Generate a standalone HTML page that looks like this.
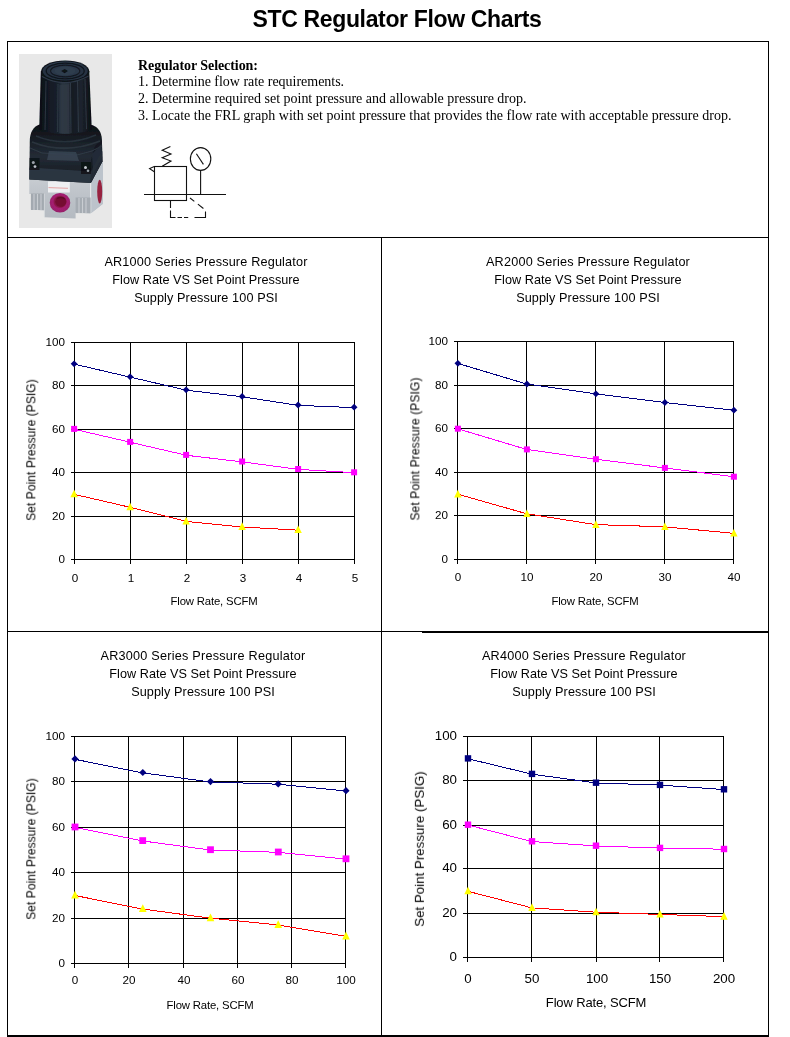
<!DOCTYPE html>
<html><head><meta charset="utf-8"><title>STC Regulator Flow Charts</title>
<style>
html,body{margin:0;padding:0;background:#fff;}
body{width:790px;height:1037px;position:relative;overflow:hidden;font-family:"Liberation Sans",sans-serif;color:#000;}
svg.main{position:absolute;left:0;top:0;}
.t{position:absolute;white-space:nowrap;color:#000;will-change:transform;}
</style></head>
<body>
<svg class="main" width="790" height="1037" viewBox="0 0 790 1037">
<defs>
<filter id="soft" x="-5%" y="-5%" width="110%" height="110%"><feGaussianBlur stdDeviation="0.55"/></filter>
<linearGradient id="capg" x1="0" x2="1" y1="0" y2="0">
<stop offset="0" stop-color="#0a0e14"/><stop offset="0.18" stop-color="#121923"/><stop offset="0.36" stop-color="#18212d"/>
<stop offset="0.44" stop-color="#2b3541"/><stop offset="0.56" stop-color="#252e39"/><stop offset="0.62" stop-color="#141a22"/>
<stop offset="0.8" stop-color="#1c242e"/><stop offset="1" stop-color="#0b0e13"/></linearGradient>
<linearGradient id="bodyg" x1="0" x2="0" y1="0" y2="1">
<stop offset="0" stop-color="#0c0f14"/><stop offset="0.35" stop-color="#1b222b"/><stop offset="0.55" stop-color="#232b35"/><stop offset="1" stop-color="#12161c"/></linearGradient>
<linearGradient id="silv" x1="0" x2="0" y1="0" y2="1">
<stop offset="0" stop-color="#d3d7db"/><stop offset="0.5" stop-color="#c0c5cb"/><stop offset="1" stop-color="#b4bac1"/></linearGradient>
<radialGradient id="port" cx="0.5" cy="0.45" r="0.55">
<stop offset="0" stop-color="#7c1238"/><stop offset="0.5" stop-color="#8a1548"/><stop offset="0.62" stop-color="#a51f70"/><stop offset="1" stop-color="#96206a"/></radialGradient>
<clipPath id="pclip"><rect x="0" y="0" width="93" height="174"/></clipPath>
</defs>
<g transform="translate(19,54)">
<rect x="0" y="0" width="93" height="174" fill="#e8e8e8"/>
<g clip-path="url(#pclip)"><g filter="url(#soft)">
<!-- silver body -->
<path d="M10.3 124 L10.3 140 L11.8 140 L11.8 155.5 L25.4 156.6 L25.4 163.2 L56.6 164.6 L56.6 158.6 L71.6 159.6 L84 149.8 L84 107 L72 126 Z" fill="url(#silv)"/>
<!-- right face -->
<path d="M71.6 128.6 L84 107.4 L84 149.8 L71.6 159.6 Z" fill="#bcc3cb"/>
<path d="M71.6 128.6 L71.6 159.6" stroke="#e6e8ea" stroke-width="1.2" fill="none"/>
<!-- recessed ribbed wings -->
<rect x="12" y="139.5" width="13.4" height="16.5" fill="#a3a9b0"/>
<rect x="56.6" y="143.5" width="15" height="15.6" fill="#a6acb3"/>
<path d="M15 140v16M18.5 140v16M22 140v16M60 144v15M63.5 144v15M67 144v15" stroke="#c9cdd2" stroke-width="1.1"/>
<!-- label highlight -->
<rect x="29" y="127.5" width="21.8" height="11" fill="#eeeff1"/>
<path d="M29.5 133.6 L49 134.3" stroke="#e29a9a" stroke-width="0.9"/>
<path d="M25.4 139.5 L25.4 163" stroke="#d9dcdf" stroke-width="0.8"/>
<!-- front port -->
<ellipse cx="41" cy="148.8" rx="10.3" ry="9.8" fill="url(#port)"/>
<ellipse cx="41.8" cy="147.6" rx="5.6" ry="5.2" fill="#741033"/>
<path d="M38 144.5 q4 -2 8 0.5" stroke="#5c0c28" stroke-width="1.3" fill="none"/>
<!-- side port -->
<ellipse cx="80.7" cy="137.6" rx="2.5" ry="11.8" fill="#98243f"/>
<!-- black body -->
<path d="M20.5 70.5 C14 72.5 11 79 10.8 86 L10.3 125.6 L71.8 129 L83.4 107.6 L82.9 85 C82.5 78 79 73 73.2 71 Z" fill="url(#bodyg)"/>
<path d="M71.8 129 L83.4 107.6 L82.9 86 L76 92 L72.5 104 Z" fill="#141920"/>
<path d="M10.4 113.5 L71.9 117.5 L71.8 129 L10.3 125.6 Z" fill="#2d3845" opacity="0.9"/>
<path d="M71.9 117.5 L83.3 97 L83.4 107.6 L71.8 129 Z" fill="#222b36" opacity="0.9"/>
<!-- collar ring sheen -->
<path d="M13 88 Q46 101 81 87" stroke="#2b343e" stroke-width="1.8" fill="none"/>
<path d="M17 82 Q46 94 77 81" stroke="#27303a" stroke-width="1.5" fill="none"/><path d="M11 94 L23 99 L58 101 L73 97 L82.9 92" stroke="#303a46" stroke-width="1" fill="none"/>
<path d="M30 97 L57 98 L60 107 L28 106 Z" fill="#374454" opacity="0.85"/><path d="M73 100 L82.5 90 L83 104 L74 120 Z" fill="#262f3a" opacity="0.9"/>
<!-- screw recesses -->
<rect x="10.5" y="104" width="10" height="12" fill="#0a0c10" opacity="0.7"/>
<rect x="62" y="108" width="10" height="12" fill="#0a0c10" opacity="0.7"/>
<circle cx="14.3" cy="108.6" r="1.5" fill="#9aa1a8"/><circle cx="16" cy="112.6" r="1.4" fill="#b9bfc5"/>
<circle cx="66.5" cy="113.6" r="1.5" fill="#c4c9ce"/><circle cx="69" cy="116.8" r="1.3" fill="#9aa1a8"/>
<!-- cap body -->
<path d="M21.8 17.5 L20.2 76 Q46 84 72.8 76 L70.3 17.5 Z" fill="url(#capg)"/>
<path d="M39 30 L38.6 78M51.5 29 L52 79M58.5 27 L59.5 78M27 27 L26 76M66 25 L67.5 75" stroke="#39434f" stroke-width="0.9" opacity="0.8"/>
<path d="M40.5 31 L40.2 79 L50.5 79.5 L50 30 Z" fill="#303a46" opacity="0.75"/>
<!-- cap top -->
<ellipse cx="46.2" cy="17.3" rx="24.2" ry="10.9" fill="#0d1219"/>
<ellipse cx="46.2" cy="17" rx="22.6" ry="9.6" fill="#263343"/>
<path d="M30 10.5 Q46 5.5 64 10.5" stroke="#40506250" stroke-width="1.6" fill="none"/>
<ellipse cx="46.2" cy="17" rx="19" ry="7.9" fill="none" stroke="#10161e" stroke-width="1.3"/>
<ellipse cx="46.2" cy="17" rx="14.6" ry="5.9" fill="#2b394a" stroke="#121922" stroke-width="1.2"/>
<ellipse cx="46" cy="17" rx="10.5" ry="4.2" fill="#33435659"/>
<path d="M45.6 14.9 L49 17.1 L45.6 19.3 L42.2 17.1 Z" fill="#0d1219"/>
<path d="M23 22.5 Q46 35 69.5 22" stroke="#2e3947" stroke-width="1.1" fill="none"/>
</g></g>
</g>

<g fill="none" stroke="#111" stroke-width="1.1" stroke-linecap="butt">
<path d="M144 194.5 H226"/>
<rect x="154.5" y="166.5" width="32" height="34"/>
<path d="M162.2 166.3 L171 161 L162.2 157.8 L171 154 L162.2 150.2 L170.4 146.4"/>
<path d="M154.3 166.6 L149.6 168.6 L154.3 171.8"/>
<ellipse cx="200.6" cy="159" rx="10.2" ry="11.4"/>
<path d="M196.4 153.7 L203.4 164.4"/>
<path d="M200.6 170.4 V194.5"/>
<path d="M170.5 200.5 V217.5 H205.5 V210.5" stroke-dasharray="7.6 2.5 11.9 2 4.5 2 4.2 6.3 17"/>
<path d="M190 198 L203.6 208.6" stroke-dasharray="5.5 4.5 7 10"/>
</g>

<g shape-rendering="crispEdges"><rect x="7" y="41" width="762" height="1" fill="#000"/><rect x="7" y="41" width="1" height="996" fill="#000"/><rect x="768" y="41" width="1" height="996" fill="#000"/><rect x="7" y="1035" width="762" height="2" fill="#000"/><rect x="7" y="237" width="762" height="1" fill="#000"/><rect x="381" y="237" width="1" height="798" fill="#000"/><rect x="7" y="631" width="762" height="1" fill="#000"/><rect x="422" y="631" width="347" height="2" fill="#000"/></g>
<g shape-rendering="crispEdges"><rect x="71" y="342" width="284" height="1" fill="#000"/><rect x="71" y="385" width="284" height="1" fill="#000"/><rect x="71" y="429" width="284" height="1" fill="#000"/><rect x="71" y="472" width="284" height="1" fill="#000"/><rect x="71" y="516" width="284" height="1" fill="#000"/><rect x="71" y="559" width="284" height="1" fill="#000"/><rect x="74" y="342" width="1" height="222" fill="#000"/><rect x="130" y="342" width="1" height="222" fill="#000"/><rect x="186" y="342" width="1" height="222" fill="#000"/><rect x="242" y="342" width="1" height="222" fill="#000"/><rect x="298" y="342" width="1" height="222" fill="#000"/><rect x="354" y="342" width="1" height="222" fill="#000"/></g>
<polyline points="74.5,364.2 130.5,377.2 186.5,390.2 242.5,396.8 298.5,405.4 354.5,407.6" fill="none" stroke="#000080" stroke-width="1" shape-rendering="crispEdges"/>
<path d="M74.1 360.4L77.5 363.8L74.1 367.2L70.7 363.8Z" fill="#000080"/>
<path d="M130.1 373.4L133.5 376.8L130.1 380.2L126.7 376.8Z" fill="#000080"/>
<path d="M186.1 386.4L189.5 389.8L186.1 393.2L182.7 389.8Z" fill="#000080"/>
<path d="M242.1 393.0L245.5 396.4L242.1 399.8L238.7 396.4Z" fill="#000080"/>
<path d="M298.1 401.6L301.5 405.0L298.1 408.4L294.7 405.0Z" fill="#000080"/>
<path d="M354.1 403.8L357.5 407.2L354.1 410.6L350.7 407.2Z" fill="#000080"/>
<polyline points="74.5,429.3 130.5,442.3 186.5,455.3 242.5,461.9 298.5,469.4 354.5,472.7" fill="none" stroke="#ff00ff" stroke-width="1" shape-rendering="crispEdges"/>
<rect x="71.1" y="425.9" width="6.0" height="6.0" fill="#ff00ff"/>
<rect x="127.1" y="438.9" width="6.0" height="6.0" fill="#ff00ff"/>
<rect x="183.1" y="451.9" width="6.0" height="6.0" fill="#ff00ff"/>
<rect x="239.1" y="458.5" width="6.0" height="6.0" fill="#ff00ff"/>
<rect x="295.1" y="466.0" width="6.0" height="6.0" fill="#ff00ff"/>
<rect x="351.1" y="469.3" width="6.0" height="6.0" fill="#ff00ff"/>
<polyline points="74.5,494.4 130.5,507.4 186.5,521.5 242.5,527.0 298.5,530.2" fill="none" stroke="#ff0000" stroke-width="1" shape-rendering="crispEdges"/>
<path d="M74.1 489.7L77.8 497.3L70.4 497.3Z" fill="#ffff00"/>
<path d="M130.1 502.7L133.8 510.3L126.4 510.3Z" fill="#ffff00"/>
<path d="M186.1 516.8L189.8 524.4L182.4 524.4Z" fill="#ffff00"/>
<path d="M242.1 522.2L245.8 529.9L238.4 529.9Z" fill="#ffff00"/>
<path d="M298.1 525.5L301.8 533.1L294.4 533.1Z" fill="#ffff00"/>
<g shape-rendering="crispEdges"><rect x="454" y="341" width="280" height="1" fill="#000"/><rect x="454" y="385" width="280" height="1" fill="#000"/><rect x="454" y="428" width="280" height="1" fill="#000"/><rect x="454" y="472" width="280" height="1" fill="#000"/><rect x="454" y="515" width="280" height="1" fill="#000"/><rect x="454" y="559" width="280" height="1" fill="#000"/><rect x="457" y="341" width="1" height="223" fill="#000"/><rect x="526" y="341" width="1" height="223" fill="#000"/><rect x="595" y="341" width="1" height="223" fill="#000"/><rect x="664" y="341" width="1" height="223" fill="#000"/><rect x="733" y="341" width="1" height="223" fill="#000"/></g>
<polyline points="457.5,363.3 526.5,384.0 595.5,393.8 664.5,402.5 733.5,410.2" fill="none" stroke="#000080" stroke-width="1" shape-rendering="crispEdges"/>
<path d="M457.9 359.9L461.3 363.3L457.9 366.7L454.5 363.3Z" fill="#000080"/>
<path d="M526.9 380.6L530.3 384.0L526.9 387.4L523.5 384.0Z" fill="#000080"/>
<path d="M595.9 390.4L599.3 393.8L595.9 397.2L592.5 393.8Z" fill="#000080"/>
<path d="M664.9 399.1L668.3 402.5L664.9 405.9L661.5 402.5Z" fill="#000080"/>
<path d="M733.9 406.8L737.3 410.2L733.9 413.6L730.5 410.2Z" fill="#000080"/>
<polyline points="457.5,428.7 526.5,449.4 595.5,459.2 664.5,467.9 733.5,476.7" fill="none" stroke="#ff00ff" stroke-width="1" shape-rendering="crispEdges"/>
<rect x="454.9" y="425.7" width="6.0" height="6.0" fill="#ff00ff"/>
<rect x="523.9" y="446.4" width="6.0" height="6.0" fill="#ff00ff"/>
<rect x="592.9" y="456.2" width="6.0" height="6.0" fill="#ff00ff"/>
<rect x="661.9" y="464.9" width="6.0" height="6.0" fill="#ff00ff"/>
<rect x="730.9" y="473.7" width="6.0" height="6.0" fill="#ff00ff"/>
<polyline points="457.5,494.1 526.5,513.7 595.5,524.6 664.5,526.8 733.5,533.3" fill="none" stroke="#ff0000" stroke-width="1" shape-rendering="crispEdges"/>
<path d="M457.9 489.8L461.6 497.4L454.2 497.4Z" fill="#ffff00"/>
<path d="M526.9 509.4L530.6 517.0L523.2 517.0Z" fill="#ffff00"/>
<path d="M595.9 520.3L599.6 527.9L592.2 527.9Z" fill="#ffff00"/>
<path d="M664.9 522.5L668.6 530.1L661.2 530.1Z" fill="#ffff00"/>
<path d="M733.9 529.0L737.6 536.6L730.2 536.6Z" fill="#ffff00"/>
<g shape-rendering="crispEdges"><rect x="71" y="736" width="275" height="1" fill="#000"/><rect x="71" y="781" width="275" height="1" fill="#000"/><rect x="71" y="827" width="275" height="1" fill="#000"/><rect x="71" y="872" width="275" height="1" fill="#000"/><rect x="71" y="918" width="275" height="1" fill="#000"/><rect x="71" y="963" width="275" height="1" fill="#000"/><rect x="74" y="736" width="1" height="232" fill="#000"/><rect x="128" y="736" width="1" height="232" fill="#000"/><rect x="183" y="736" width="1" height="232" fill="#000"/><rect x="237" y="736" width="1" height="232" fill="#000"/><rect x="291" y="736" width="1" height="232" fill="#000"/><rect x="345" y="736" width="1" height="232" fill="#000"/></g>
<polyline points="74.5,759.2 142.2,772.8 210.0,781.9 277.8,784.2 345.5,791.0" fill="none" stroke="#000080" stroke-width="1" shape-rendering="crispEdges"/>
<path d="M75.0 755.3L78.6 758.9L75.0 762.5L71.4 758.9Z" fill="#000080"/>
<path d="M142.8 768.9L146.3 772.5L142.8 776.1L139.2 772.5Z" fill="#000080"/>
<path d="M210.5 778.0L214.1 781.6L210.5 785.2L206.9 781.6Z" fill="#000080"/>
<path d="M278.2 780.3L281.9 783.9L278.2 787.5L274.6 783.9Z" fill="#000080"/>
<path d="M346.0 787.1L349.6 790.7L346.0 794.3L342.4 790.7Z" fill="#000080"/>
<polyline points="74.5,827.3 142.2,840.9 210.0,850.0 277.8,852.3 345.5,859.1" fill="none" stroke="#ff00ff" stroke-width="1" shape-rendering="crispEdges"/>
<rect x="71.6" y="823.6" width="6.8" height="6.8" fill="#ff00ff"/>
<rect x="139.3" y="837.2" width="6.8" height="6.8" fill="#ff00ff"/>
<rect x="207.1" y="846.3" width="6.8" height="6.8" fill="#ff00ff"/>
<rect x="274.9" y="848.6" width="6.8" height="6.8" fill="#ff00ff"/>
<rect x="342.6" y="855.4" width="6.8" height="6.8" fill="#ff00ff"/>
<polyline points="74.5,895.4 142.2,909.0 210.0,918.1 277.8,924.9 345.5,936.3" fill="none" stroke="#ff0000" stroke-width="1" shape-rendering="crispEdges"/>
<path d="M75.0 890.7L78.8 898.5L71.2 898.5Z" fill="#ffff00"/>
<path d="M142.8 904.3L146.6 912.1L138.9 912.1Z" fill="#ffff00"/>
<path d="M210.5 913.4L214.3 921.2L206.7 921.2Z" fill="#ffff00"/>
<path d="M278.2 920.2L282.1 928.0L274.4 928.0Z" fill="#ffff00"/>
<path d="M346.0 931.6L349.8 939.4L342.2 939.4Z" fill="#ffff00"/>
<g shape-rendering="crispEdges"><rect x="463" y="736" width="261" height="1" fill="#000"/><rect x="463" y="780" width="261" height="1" fill="#000"/><rect x="463" y="825" width="261" height="1" fill="#000"/><rect x="463" y="868" width="261" height="1" fill="#000"/><rect x="463" y="913" width="261" height="1" fill="#000"/><rect x="463" y="957" width="261" height="1" fill="#000"/><rect x="467" y="736" width="1" height="226" fill="#000"/><rect x="531" y="736" width="1" height="226" fill="#000"/><rect x="596" y="736" width="1" height="226" fill="#000"/><rect x="659" y="736" width="1" height="226" fill="#000"/><rect x="723" y="736" width="1" height="226" fill="#000"/></g>
<polyline points="467.5,758.6 531.5,774.1 595.5,782.9 659.5,785.1 723.5,789.5" fill="none" stroke="#000080" stroke-width="1" shape-rendering="crispEdges"/>
<rect x="464.8" y="755.2" width="6.4" height="6.4" fill="#000080"/>
<rect x="528.8" y="770.7" width="6.4" height="6.4" fill="#000080"/>
<rect x="592.8" y="779.5" width="6.4" height="6.4" fill="#000080"/>
<rect x="656.8" y="781.7" width="6.4" height="6.4" fill="#000080"/>
<rect x="720.8" y="786.1" width="6.4" height="6.4" fill="#000080"/>
<polyline points="467.5,824.9 531.5,841.5 595.5,845.9 659.5,848.1 723.5,849.2" fill="none" stroke="#ff00ff" stroke-width="1" shape-rendering="crispEdges"/>
<rect x="464.8" y="821.5" width="6.4" height="6.4" fill="#ff00ff"/>
<rect x="528.8" y="838.1" width="6.4" height="6.4" fill="#ff00ff"/>
<rect x="592.8" y="842.5" width="6.4" height="6.4" fill="#ff00ff"/>
<rect x="656.8" y="844.7" width="6.4" height="6.4" fill="#ff00ff"/>
<rect x="720.8" y="845.8" width="6.4" height="6.4" fill="#ff00ff"/>
<polyline points="467.5,891.2 531.5,907.8 595.5,912.2 659.5,914.4 723.5,916.6" fill="none" stroke="#ff0000" stroke-width="1" shape-rendering="crispEdges"/>
<path d="M468.0 886.7L471.7 894.3L464.3 894.3Z" fill="#ffff00"/>
<path d="M532.0 903.3L535.7 910.9L528.3 910.9Z" fill="#ffff00"/>
<path d="M596.0 907.7L599.7 915.3L592.3 915.3Z" fill="#ffff00"/>
<path d="M660.0 909.9L663.7 917.5L656.3 917.5Z" fill="#ffff00"/>
<path d="M724.0 912.1L727.7 919.7L720.3 919.7Z" fill="#ffff00"/>
</svg>
<div class="t" style="left:65.1px;top:333.83px;font:normal 11.67px/15px 'Liberation Sans',sans-serif;letter-spacing:0px;transform:translateX(-100%);">100</div>
<div class="t" style="left:65.1px;top:376.83px;font:normal 11.67px/15px 'Liberation Sans',sans-serif;letter-spacing:0px;transform:translateX(-100%);">80</div>
<div class="t" style="left:65.1px;top:420.83px;font:normal 11.67px/15px 'Liberation Sans',sans-serif;letter-spacing:0px;transform:translateX(-100%);">60</div>
<div class="t" style="left:65.1px;top:463.83px;font:normal 11.67px/15px 'Liberation Sans',sans-serif;letter-spacing:0px;transform:translateX(-100%);">40</div>
<div class="t" style="left:65.1px;top:507.83px;font:normal 11.67px/15px 'Liberation Sans',sans-serif;letter-spacing:0px;transform:translateX(-100%);">20</div>
<div class="t" style="left:65.1px;top:550.83px;font:normal 11.67px/15px 'Liberation Sans',sans-serif;letter-spacing:0px;transform:translateX(-100%);">0</div>
<div class="t" style="left:74.5px;top:569.71px;font:normal 11.67px/15px 'Liberation Sans',sans-serif;letter-spacing:0px;transform:translateX(-50%);">0</div>
<div class="t" style="left:130.5px;top:569.71px;font:normal 11.67px/15px 'Liberation Sans',sans-serif;letter-spacing:0px;transform:translateX(-50%);">1</div>
<div class="t" style="left:186.5px;top:569.71px;font:normal 11.67px/15px 'Liberation Sans',sans-serif;letter-spacing:0px;transform:translateX(-50%);">2</div>
<div class="t" style="left:242.5px;top:569.71px;font:normal 11.67px/15px 'Liberation Sans',sans-serif;letter-spacing:0px;transform:translateX(-50%);">3</div>
<div class="t" style="left:298.5px;top:569.71px;font:normal 11.67px/15px 'Liberation Sans',sans-serif;letter-spacing:0px;transform:translateX(-50%);">4</div>
<div class="t" style="left:354.5px;top:569.71px;font:normal 11.67px/15px 'Liberation Sans',sans-serif;letter-spacing:0px;transform:translateX(-50%);">5</div>
<div class="t" style="left:206px;top:254.11px;font:normal 12.67px/16px 'Liberation Sans',sans-serif;letter-spacing:0.17px;transform:translateX(-50%);">AR1000 Series Pressure Regulator</div>
<div class="t" style="left:206px;top:271.91px;font:normal 12.67px/16px 'Liberation Sans',sans-serif;letter-spacing:0.03px;transform:translateX(-50%);">Flow Rate VS Set Point Pressure</div>
<div class="t" style="left:206px;top:289.81px;font:normal 12.67px/16px 'Liberation Sans',sans-serif;letter-spacing:0.1px;transform:translateX(-50%);">Supply Pressure 100 PSI</div>
<div class="t" style="left:214px;top:593.87px;font:normal 11.33px/14px 'Liberation Sans',sans-serif;letter-spacing:-0.17px;transform:translateX(-50%);">Flow Rate, SCFM</div>
<div class="t" style="left:35.5px;top:450px;font:12px/15px 'Liberation Sans',sans-serif;letter-spacing:0.06px;transform:rotate(-90deg) translate(-50%,-11.66px);transform-origin:0 0;">Set Point Pressure (PSIG)</div>
<div class="t" style="left:447.9px;top:333.33px;font:normal 11.67px/15px 'Liberation Sans',sans-serif;letter-spacing:0px;transform:translateX(-100%);">100</div>
<div class="t" style="left:447.9px;top:377.33px;font:normal 11.67px/15px 'Liberation Sans',sans-serif;letter-spacing:0px;transform:translateX(-100%);">80</div>
<div class="t" style="left:447.9px;top:420.33px;font:normal 11.67px/15px 'Liberation Sans',sans-serif;letter-spacing:0px;transform:translateX(-100%);">60</div>
<div class="t" style="left:447.9px;top:464.33px;font:normal 11.67px/15px 'Liberation Sans',sans-serif;letter-spacing:0px;transform:translateX(-100%);">40</div>
<div class="t" style="left:447.9px;top:507.33px;font:normal 11.67px/15px 'Liberation Sans',sans-serif;letter-spacing:0px;transform:translateX(-100%);">20</div>
<div class="t" style="left:447.9px;top:551.33px;font:normal 11.67px/15px 'Liberation Sans',sans-serif;letter-spacing:0px;transform:translateX(-100%);">0</div>
<div class="t" style="left:457.5px;top:568.71px;font:normal 11.67px/15px 'Liberation Sans',sans-serif;letter-spacing:0px;transform:translateX(-50%);">0</div>
<div class="t" style="left:526.5px;top:568.71px;font:normal 11.67px/15px 'Liberation Sans',sans-serif;letter-spacing:0px;transform:translateX(-50%);">10</div>
<div class="t" style="left:595.5px;top:568.71px;font:normal 11.67px/15px 'Liberation Sans',sans-serif;letter-spacing:0px;transform:translateX(-50%);">20</div>
<div class="t" style="left:664.5px;top:568.71px;font:normal 11.67px/15px 'Liberation Sans',sans-serif;letter-spacing:0px;transform:translateX(-50%);">30</div>
<div class="t" style="left:733.5px;top:568.71px;font:normal 11.67px/15px 'Liberation Sans',sans-serif;letter-spacing:0px;transform:translateX(-50%);">40</div>
<div class="t" style="left:588px;top:254.11px;font:normal 12.67px/16px 'Liberation Sans',sans-serif;letter-spacing:0.2px;transform:translateX(-50%);">AR2000 Series Pressure Regulator</div>
<div class="t" style="left:588px;top:271.91px;font:normal 12.67px/16px 'Liberation Sans',sans-serif;letter-spacing:0.03px;transform:translateX(-50%);">Flow Rate VS Set Point Pressure</div>
<div class="t" style="left:588px;top:289.81px;font:normal 12.67px/16px 'Liberation Sans',sans-serif;letter-spacing:0.1px;transform:translateX(-50%);">Supply Pressure 100 PSI</div>
<div class="t" style="left:595px;top:594.07px;font:normal 11.33px/14px 'Liberation Sans',sans-serif;letter-spacing:-0.15px;transform:translateX(-50%);">Flow Rate, SCFM</div>
<div class="t" style="left:419.5px;top:449px;font:12px/15px 'Liberation Sans',sans-serif;letter-spacing:0.12px;transform:rotate(-90deg) translate(-50%,-11.66px);transform-origin:0 0;">Set Point Pressure (PSIG)</div>
<div class="t" style="left:64.8px;top:727.83px;font:normal 11.67px/15px 'Liberation Sans',sans-serif;letter-spacing:0px;transform:translateX(-100%);">100</div>
<div class="t" style="left:64.8px;top:772.83px;font:normal 11.67px/15px 'Liberation Sans',sans-serif;letter-spacing:0px;transform:translateX(-100%);">80</div>
<div class="t" style="left:64.8px;top:818.83px;font:normal 11.67px/15px 'Liberation Sans',sans-serif;letter-spacing:0px;transform:translateX(-100%);">60</div>
<div class="t" style="left:64.8px;top:863.83px;font:normal 11.67px/15px 'Liberation Sans',sans-serif;letter-spacing:0px;transform:translateX(-100%);">40</div>
<div class="t" style="left:64.8px;top:909.83px;font:normal 11.67px/15px 'Liberation Sans',sans-serif;letter-spacing:0px;transform:translateX(-100%);">20</div>
<div class="t" style="left:64.8px;top:954.83px;font:normal 11.67px/15px 'Liberation Sans',sans-serif;letter-spacing:0px;transform:translateX(-100%);">0</div>
<div class="t" style="left:74.5px;top:972.31px;font:normal 11.67px/15px 'Liberation Sans',sans-serif;letter-spacing:0px;transform:translateX(-50%);">0</div>
<div class="t" style="left:128.5px;top:972.31px;font:normal 11.67px/15px 'Liberation Sans',sans-serif;letter-spacing:0px;transform:translateX(-50%);">20</div>
<div class="t" style="left:183.5px;top:972.31px;font:normal 11.67px/15px 'Liberation Sans',sans-serif;letter-spacing:0px;transform:translateX(-50%);">40</div>
<div class="t" style="left:237.5px;top:972.31px;font:normal 11.67px/15px 'Liberation Sans',sans-serif;letter-spacing:0px;transform:translateX(-50%);">60</div>
<div class="t" style="left:291.5px;top:972.31px;font:normal 11.67px/15px 'Liberation Sans',sans-serif;letter-spacing:0px;transform:translateX(-50%);">80</div>
<div class="t" style="left:345.5px;top:972.31px;font:normal 11.67px/15px 'Liberation Sans',sans-serif;letter-spacing:0px;transform:translateX(-50%);">100</div>
<div class="t" style="left:203px;top:648.11px;font:normal 12.67px/16px 'Liberation Sans',sans-serif;letter-spacing:0.23px;transform:translateX(-50%);">AR3000 Series Pressure Regulator</div>
<div class="t" style="left:203px;top:666.11px;font:normal 12.67px/16px 'Liberation Sans',sans-serif;letter-spacing:0.03px;transform:translateX(-50%);">Flow Rate VS Set Point Pressure</div>
<div class="t" style="left:203px;top:684.41px;font:normal 12.67px/16px 'Liberation Sans',sans-serif;letter-spacing:0.1px;transform:translateX(-50%);">Supply Pressure 100 PSI</div>
<div class="t" style="left:210px;top:997.67px;font:normal 11.33px/14px 'Liberation Sans',sans-serif;letter-spacing:-0.17px;transform:translateX(-50%);">Flow Rate, SCFM</div>
<div class="t" style="left:35.5px;top:848.5px;font:12px/15px 'Liberation Sans',sans-serif;letter-spacing:0.06px;transform:rotate(-90deg) translate(-50%,-11.66px);transform-origin:0 0;">Set Point Pressure (PSIG)</div>
<div class="t" style="left:456.6px;top:727.15px;font:normal 13.33px/17px 'Liberation Sans',sans-serif;letter-spacing:0px;transform:translateX(-100%);">100</div>
<div class="t" style="left:456.6px;top:771.15px;font:normal 13.33px/17px 'Liberation Sans',sans-serif;letter-spacing:0px;transform:translateX(-100%);">80</div>
<div class="t" style="left:456.6px;top:816.15px;font:normal 13.33px/17px 'Liberation Sans',sans-serif;letter-spacing:0px;transform:translateX(-100%);">60</div>
<div class="t" style="left:456.6px;top:859.15px;font:normal 13.33px/17px 'Liberation Sans',sans-serif;letter-spacing:0px;transform:translateX(-100%);">40</div>
<div class="t" style="left:456.6px;top:904.15px;font:normal 13.33px/17px 'Liberation Sans',sans-serif;letter-spacing:0px;transform:translateX(-100%);">20</div>
<div class="t" style="left:456.6px;top:948.15px;font:normal 13.33px/17px 'Liberation Sans',sans-serif;letter-spacing:0px;transform:translateX(-100%);">0</div>
<div class="t" style="left:467.5px;top:970.03px;font:normal 13.33px/17px 'Liberation Sans',sans-serif;letter-spacing:0px;transform:translateX(-50%);">0</div>
<div class="t" style="left:531.5px;top:970.03px;font:normal 13.33px/17px 'Liberation Sans',sans-serif;letter-spacing:0px;transform:translateX(-50%);">50</div>
<div class="t" style="left:596.5px;top:970.03px;font:normal 13.33px/17px 'Liberation Sans',sans-serif;letter-spacing:0px;transform:translateX(-50%);">100</div>
<div class="t" style="left:659.5px;top:970.03px;font:normal 13.33px/17px 'Liberation Sans',sans-serif;letter-spacing:0px;transform:translateX(-50%);">150</div>
<div class="t" style="left:723.5px;top:970.03px;font:normal 13.33px/17px 'Liberation Sans',sans-serif;letter-spacing:0px;transform:translateX(-50%);">200</div>
<div class="t" style="left:583.5px;top:648.11px;font:normal 12.67px/16px 'Liberation Sans',sans-serif;letter-spacing:0.2px;transform:translateX(-50%);">AR4000 Series Pressure Regulator</div>
<div class="t" style="left:583.5px;top:666.11px;font:normal 12.67px/16px 'Liberation Sans',sans-serif;letter-spacing:0.03px;transform:translateX(-50%);">Flow Rate VS Set Point Pressure</div>
<div class="t" style="left:583.5px;top:684.41px;font:normal 12.67px/16px 'Liberation Sans',sans-serif;letter-spacing:0.1px;transform:translateX(-50%);">Supply Pressure 100 PSI</div>
<div class="t" style="left:595.5px;top:995.10px;font:normal 13px/16px 'Liberation Sans',sans-serif;letter-spacing:-0.15px;transform:translateX(-50%);">Flow Rate, SCFM</div>
<div class="t" style="left:424.3px;top:849.3px;font:13.33px/17px 'Liberation Sans',sans-serif;letter-spacing:0.0px;transform:rotate(-90deg) translate(-50%,-13.12px);transform-origin:0 0;">Set Point Pressure (PSIG)</div>
<div class="t" style="left:396.5px;top:4.53px;font:bold 23px/29px 'Liberation Sans',sans-serif;letter-spacing:-0.35px;transform:translateX(-50%);">STC Regulator Flow Charts</div>
<div class="t" style="left:138px;top:56.57px;font:bold 14px/18px 'Liberation Serif',sans-serif;letter-spacing:-0.08px;transform:translateX(0);">Regulator Selection:</div>
<div class="t" style="left:138px;top:73.38px;font:normal 14px/18px 'Liberation Serif',sans-serif;letter-spacing:-0.02px;transform:translateX(0);">1. Determine flow rate requirements.</div>
<div class="t" style="left:138px;top:90.38px;font:normal 14px/18px 'Liberation Serif',sans-serif;letter-spacing:-0.01px;transform:translateX(0);">2. Determine required set point pressure and allowable pressure drop.</div>
<div class="t" style="left:138px;top:107.47px;font:normal 14px/18px 'Liberation Serif',sans-serif;letter-spacing:0.025px;transform:translateX(0);">3. Locate the FRL graph with set point pressure that provides the flow rate with acceptable pressure drop.</div>
</body></html>
